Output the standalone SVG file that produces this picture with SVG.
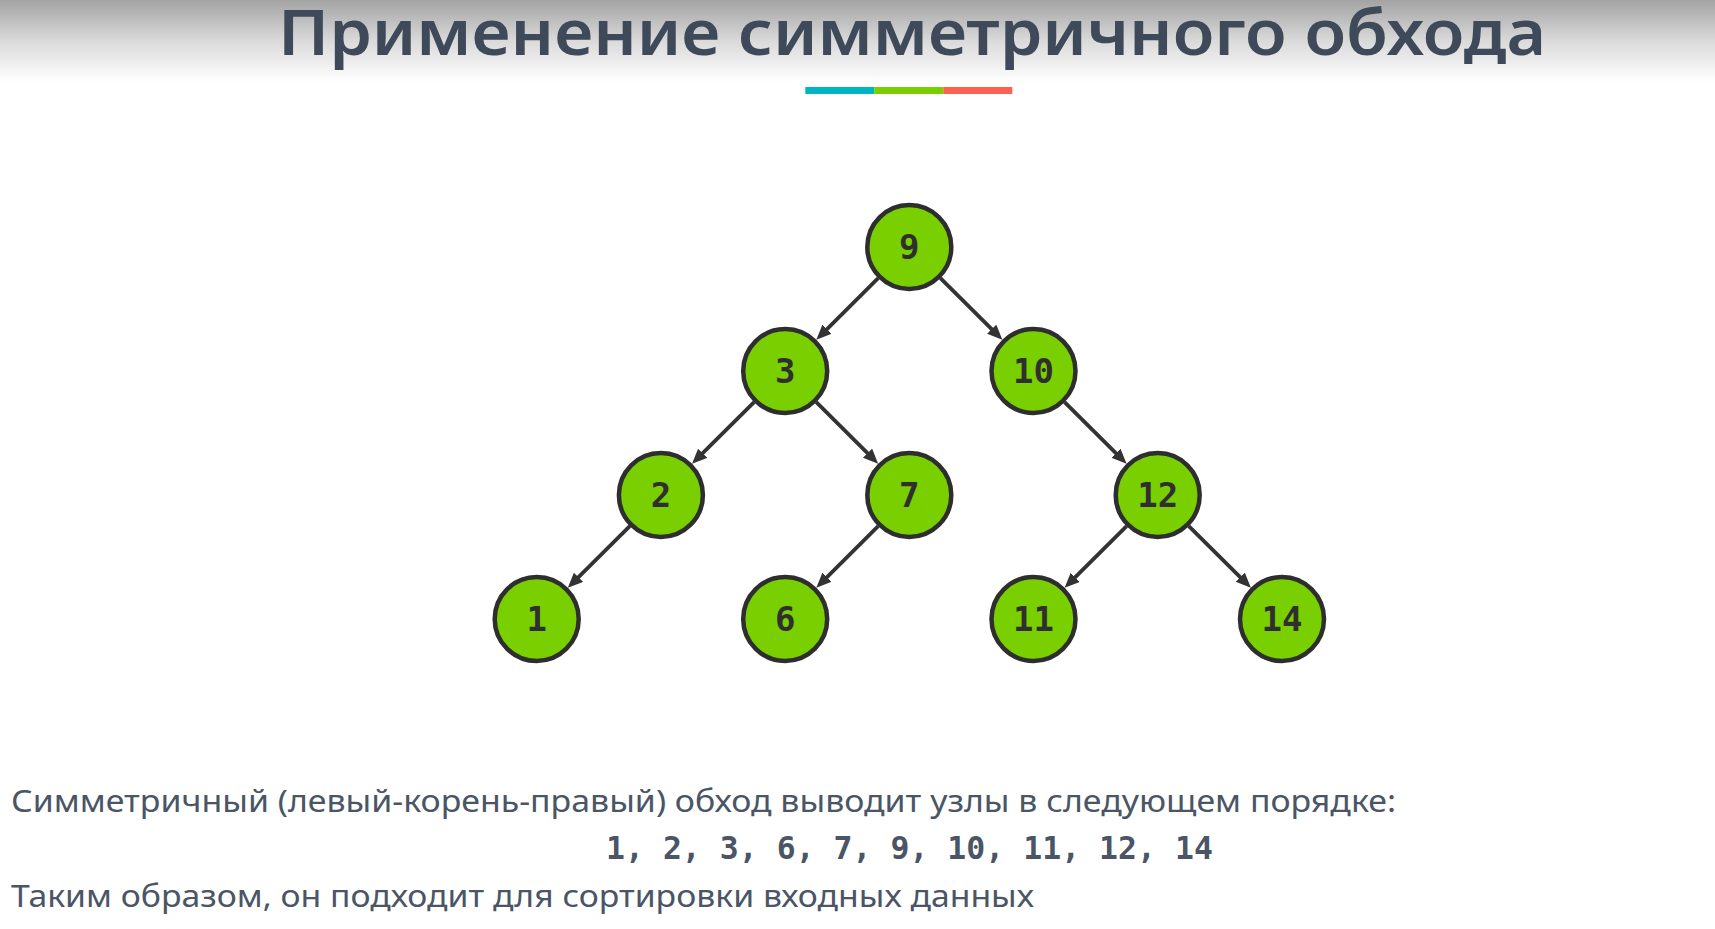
<svg xmlns="http://www.w3.org/2000/svg" width="1715" height="929" viewBox="0 0 1715 929">
  <defs>
    <linearGradient id="topGrad" x1="0" y1="0" x2="0" y2="1">
      <stop offset="0" stop-color="#a3a3a3"/>
      <stop offset="0.5" stop-color="#dadada"/>
      <stop offset="1" stop-color="#ffffff"/>
    </linearGradient>
    <marker id="arrow" markerUnits="userSpaceOnUse" markerWidth="16" markerHeight="14" refX="7" refY="6.5" orient="auto">
      <path d="M0,0 L15,6.5 L0,13 z" fill="#333333"/>
    </marker>
  </defs>
  <style>
    .title { font-family: "Noto Sans", "Open Sans", sans-serif; font-size: 63px; font-weight: 600; fill: #3e4a5a; }
    .body { font-family: "Noto Sans", "Open Sans", sans-serif; font-size: 30px; fill: #4a5566; }
    .seq { font-family: "DejaVu Sans Mono", monospace; font-size: 31.5px; font-weight: bold; fill: #4a5566; }
    .node circle { fill: #7acf00; stroke: #2e2e2e; stroke-width: 4.5; }
    .node text { font-family: "DejaVu Sans Mono", monospace; font-size: 34px; font-weight: bold; fill: #2f2f2f; text-anchor: middle; }
    .edge { stroke: #333333; stroke-width: 3.8; fill: none; marker-end: url(#arrow); }
  </style>

  <rect x="0" y="0" width="1715" height="929" fill="#ffffff"/>
  <rect x="0" y="0" width="1715" height="82" fill="url(#topGrad)"/>

  <text class="title" x="278" y="55" textLength="1268" lengthAdjust="spacingAndGlyphs">Применение симметричного обхода</text>

  <g id="underline">
    <rect x="805.3" y="87" width="69" height="7" fill="#00b4c4"/>
    <rect x="874.3" y="87" width="69" height="7" fill="#78d000"/>
    <rect x="943.3" y="87" width="69" height="7" fill="#ff6150"/>
  </g>

  <g id="connectors">
    <line class="edge" x1="878.2" y1="278.1" x2="822" y2="334.2"/>
    <line class="edge" x1="940.4" y1="278.1" x2="996.7" y2="334.2"/>
    <line class="edge" x1="754.1" y1="402.1" x2="697.7" y2="458.2"/>
    <line class="edge" x1="816.3" y1="402.1" x2="872.5" y2="458.2"/>
    <line class="edge" x1="1064.6" y1="402.1" x2="1120.9" y2="458.2"/>
    <line class="edge" x1="629.8" y1="526.1" x2="573.5" y2="582.2"/>
    <line class="edge" x1="878.2" y1="526.1" x2="822" y2="582.2"/>
    <line class="edge" x1="1126.6" y1="526.1" x2="1070.3" y2="582.2"/>
    <line class="edge" x1="1188.8" y1="526.1" x2="1245.2" y2="582.2"/>
  </g>

  <g id="node-9" class="node"><circle cx="909.3" cy="247" r="42"/><text x="909.3" y="259">9</text></g>
  <g id="node-3" class="node"><circle cx="785.2" cy="371" r="42"/><text x="785.2" y="383">3</text></g>
  <g id="node-10" class="node"><circle cx="1033.5" cy="371" r="42"/><text x="1033.5" y="383">10</text></g>
  <g id="node-2" class="node"><circle cx="660.9" cy="495" r="42"/><text x="660.9" y="507">2</text></g>
  <g id="node-7" class="node"><circle cx="909.3" cy="495" r="42"/><text x="909.3" y="507">7</text></g>
  <g id="node-12" class="node"><circle cx="1157.7" cy="495" r="42"/><text x="1157.7" y="507">12</text></g>
  <g id="node-1" class="node"><circle cx="536.7" cy="619" r="42"/><text x="536.7" y="631">1</text></g>
  <g id="node-6" class="node"><circle cx="785.2" cy="619" r="42"/><text x="785.2" y="631">6</text></g>
  <g id="node-11" class="node"><circle cx="1033.5" cy="619" r="42"/><text x="1033.5" y="631">11</text></g>
  <g id="node-14" class="node"><circle cx="1282" cy="619" r="42"/><text x="1282" y="631">14</text></g>

  <text class="body" x="11" y="811.5" textLength="1385" lengthAdjust="spacingAndGlyphs">Симметричный (левый-корень-правый) обход выводит узлы в следующем порядке:</text>
  <text class="seq" x="606" y="859">1, 2, 3, 6, 7, 9, 10, 11, 12, 14</text>
  <text class="body" x="11" y="907" textLength="1023" lengthAdjust="spacingAndGlyphs">Таким образом, он подходит для сортировки входных данных</text>
</svg>
